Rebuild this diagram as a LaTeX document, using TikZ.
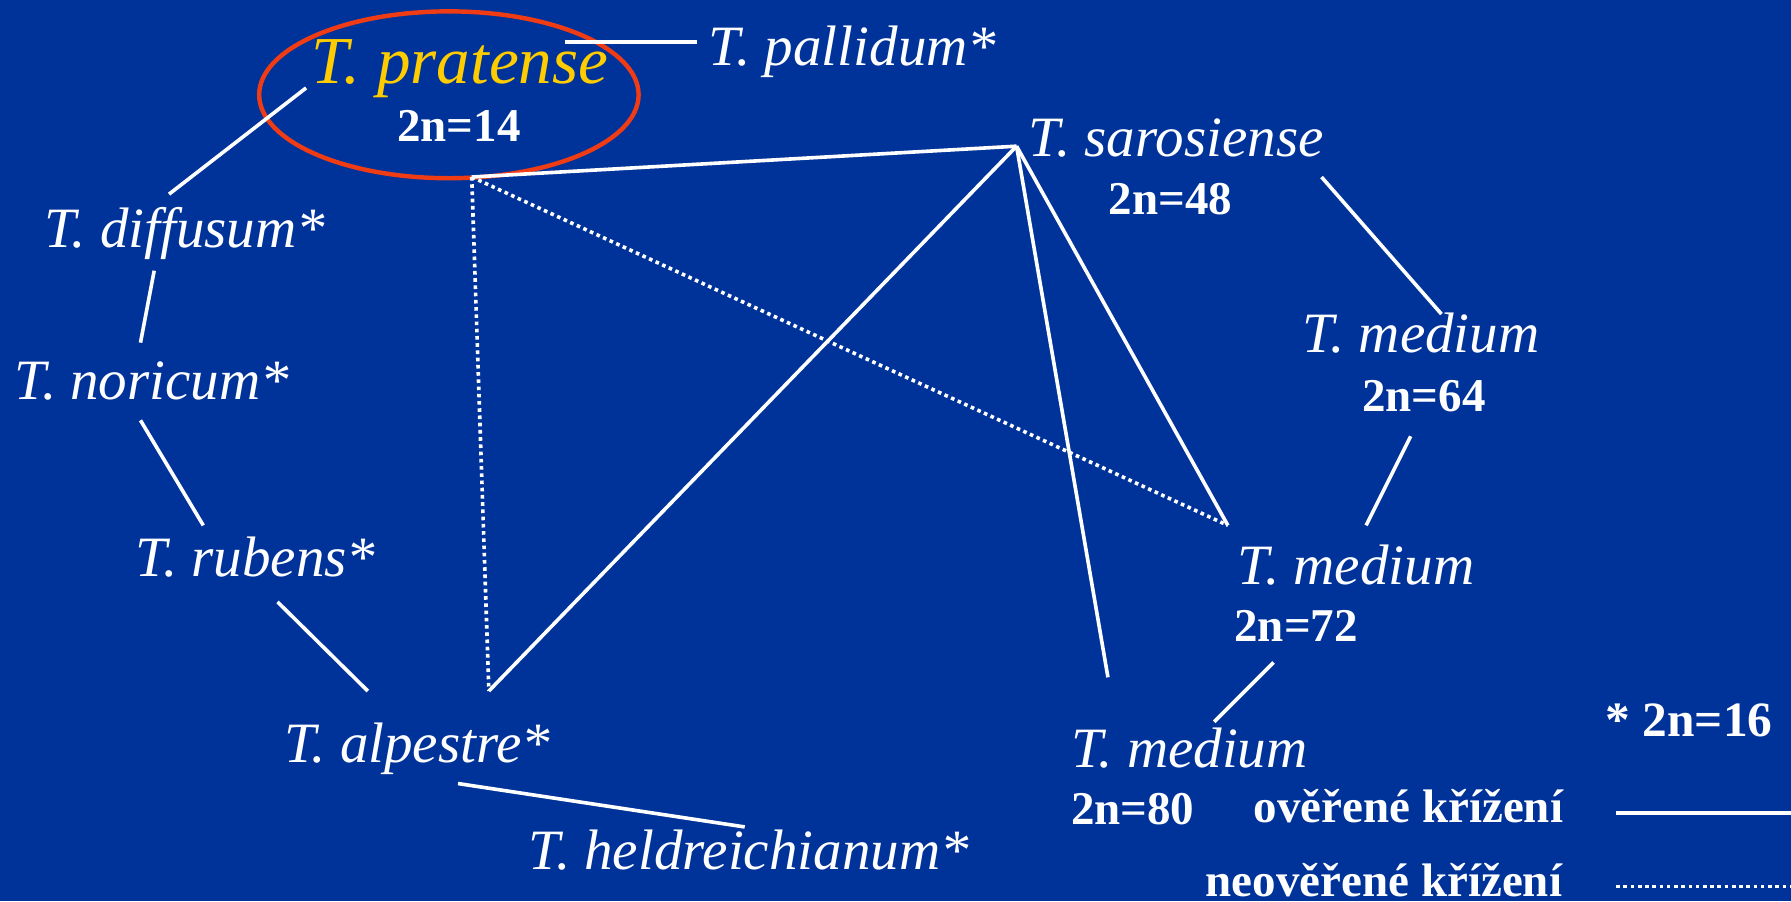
\documentclass[tikz,border=0pt]{standalone}
\usepackage{fontspec}
\setmainfont{Liberation Serif}
\definecolor{bg}{RGB}{0,51,153}
\definecolor{ringred}{RGB}{240,60,20}
\definecolor{pyellow}{RGB}{255,204,0}
\begin{document}
\begin{tikzpicture}[x=0.01cm,y=-0.01cm,
  sp/.style={font=\fontsize{14.2}{16}\selectfont\itshape, text=white, inner sep=0pt, anchor=base west},
  cn/.style={font=\fontsize{11.7}{14}\selectfont\bfseries, text=white, inner sep=0pt, anchor=base west},
  link/.style={white, line width=0.9pt},
  unver/.style={white, line width=0.9pt, dash pattern=on 0.9pt off 0.9pt}]
\fill[bg] (0,0) rectangle (1568,789);
\useasboundingbox (0,0) rectangle (1568,789);

% highlight ring
\draw[ringred, line width=1.1pt] (393,83) ellipse [x radius=1.66cm, y radius=0.73cm];

% species nodes
\node[sp, font=\fontsize{16.7}{18}\selectfont\itshape, text=pyellow] (pratense) at (272,73) {T. pratense};
\node[cn] (n14) at (347,124) {2n=14};
\node[sp] (pallidum) at (620,57) {T. pallidum*};
\node[sp] (diffusum) at (38,217) {T. diffusum*};
\node[sp] (noricum) at (12,350) {T. noricum*};
\node[sp] (rubens) at (118,505) {T. rubens*};
\node[sp] (alpestre) at (248,668) {T. alpestre*};
\node[sp] (heldr) at (462,761) {T. heldreichianum*};
\node[sp] (sarosiense) at (900,137) {T. sarosiense};
\node[cn] (n48) at (970,188) {2n=48};
\node[sp] (med64) at (1140,309) {T. medium};
\node[cn] (n64) at (1192,360) {2n=64};
\node[sp] (med72) at (1083,512) {T. medium};
\node[cn] (n72) at (1080,562) {2n=72};
\node[sp] (med80) at (937,672) {T. medium};
\node[cn] (n80) at (937,722) {2n=80};

% legend
\node[cn, font=\fontsize{12.3}{14}\selectfont\bfseries] (star) at (1405,645) {* 2n=16};
\node[cn] (ver) at (1097,720) {ověřené křížení};
\node[cn] (unv) at (1055,785) {neověřené křížení};

% connector end points
\coordinate (pal-a) at (495,37);  \coordinate (pal-b) at (610,37);
\coordinate (pd-a) at (268,77);   \coordinate (pd-b) at (148,170);
\coordinate (dn-a) at (135,237);  \coordinate (dn-b) at (123,300);
\coordinate (nr-a) at (123,368);  \coordinate (nr-b) at (178,460);
\coordinate (ra-a) at (243,527);  \coordinate (ra-b) at (322,605);
\coordinate (ah-a) at (401,686);  \coordinate (ah-b) at (652,724);
\coordinate (prb) at (413,155);
\coordinate (sar) at (890,128);
\coordinate (alt) at (428,605);
\coordinate (m72t) at (1075,460);
\coordinate (m80t) at (970,593);
\coordinate (s64-a) at (1157,155); \coordinate (s64-b) at (1262,275);
\coordinate (m64-a) at (1235,382); \coordinate (m64-b) at (1196,460);
\coordinate (m72-a) at (1115,580); \coordinate (m72-b) at (1063,632);
\coordinate (lg1-a) at (1415,712); \coordinate (lg1-b) at (1568,712);
\coordinate (lg2-a) at (1415,776); \coordinate (lg2-b) at (1568,776);

% verified crossings
\draw[link] (pal-a) -- (pal-b);
\draw[link] (pd-a) -- (pd-b);
\draw[link] (dn-a) -- (dn-b);
\draw[link] (nr-a) -- (nr-b);
\draw[link] (ra-a) -- (ra-b);
\draw[link] (ah-a) -- (ah-b);
\draw[link] (prb) -- (sar);
\draw[link] (alt) -- (sar);
\draw[link] (sar) -- (m80t);
\draw[link] (sar) -- (m72t);
\draw[link] (s64-a) -- (s64-b);
\draw[link] (m64-a) -- (m64-b);
\draw[link] (m72-a) -- (m72-b);

% unverified crossings
\draw[unver] (prb) -- (alt);
\draw[unver] (prb) -- (m72t);

% legend lines
\draw[link] (lg1-a) -- (lg1-b);
\draw[unver] (lg2-a) -- (lg2-b);
\end{tikzpicture}
\end{document}
